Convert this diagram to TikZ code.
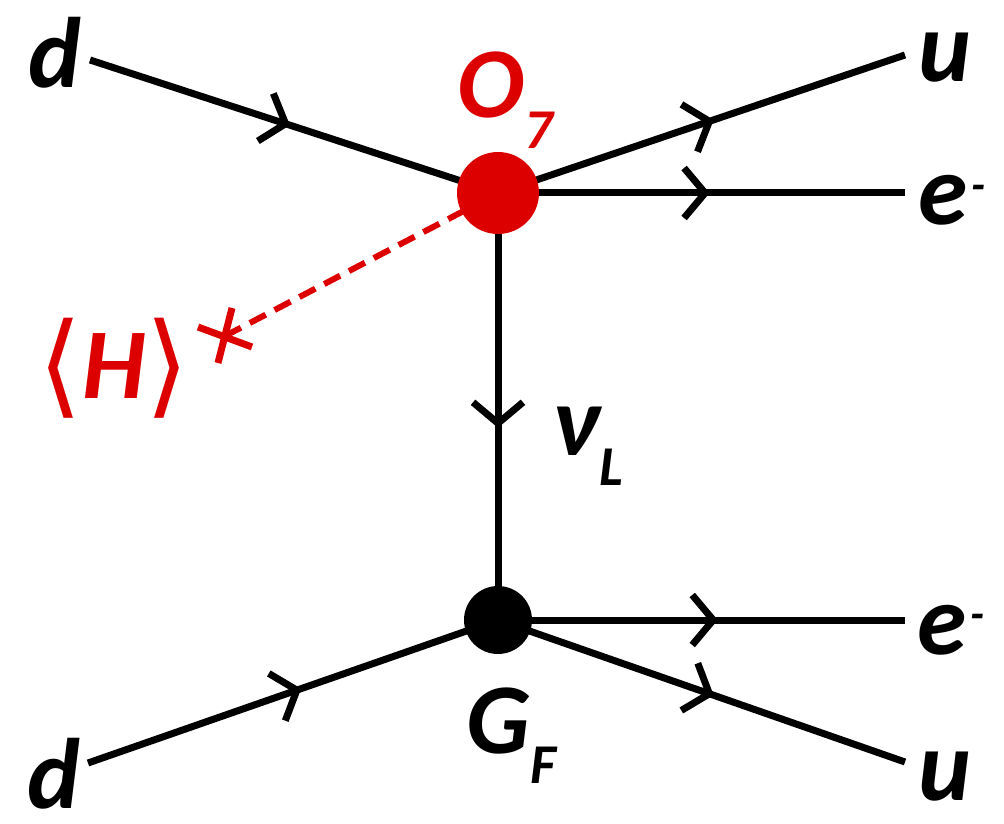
\documentclass[tikz,border=0pt]{standalone}
\usepackage{amsmath}
\usepackage{fontspec}
\setmainfont{Carlito}
\newfontfamily\symfont{DejaVu Sans}
\usetikzlibrary{arrows.meta,decorations.markings,positioning}
\definecolor{opred}{RGB}{220,0,0}
\tikzset{
  fermion/.style={decoration={markings,
      mark=at position #1 with {\arrow{Straight Barb[length=0.42cm,width=1cm]}}},
    postaction={decorate}},
  fermion/.default=0.5,
  leg/.style={line width=0.14cm},
  lbl/.style={font=\fontsize{57}{60}\selectfont\bfseries\itshape, inner sep=0pt},
}
\newcommand{\lowsub}[1]{\raisebox{-0.3em}{\fontsize{32}{32}\selectfont #1}}
\newcommand{\elneg}{\hspace{0.08cm}\raisebox{0.5cm}{\fontsize{26}{26}\selectfont -}}
\newcommand{\angl}[1]{\raisebox{-0.12cm}{\symfont\fontsize{64}{64}\selectfont\upshape\mdseries #1}}
\begin{document}
\begin{tikzpicture}[x=0.02cm,y=-0.02cm]
  \useasboundingbox (0,0) rectangle (1004,824);
  % vertices and free ends
  \coordinate (top) at (498,193);
  \coordinate (bot) at (498,620);
  \coordinate (din) at (90,60);
  \coordinate (uout) at (905,55);
  \coordinate (eout) at (905,193);
  \coordinate (dinb) at (88,763);
  \coordinate (eoutb) at (905,620);
  \coordinate (uoutb) at (905,762);
  \coordinate (vev) at (225,336);
  % Higgs vev insertion
  \draw[opred, line width=0.12cm, dash pattern=on 0.36cm off 0.2cm] (vev) -- (top);
  \draw[opred, line width=0.14cm] ([shift={(-27,-9)}]vev) -- ([shift={(27,11)}]vev);
  \draw[opred, line width=0.14cm] ([shift={(7,-28)}]vev) -- ([shift={(-7,27)}]vev);
  % fermion lines
  \draw[leg, fermion=0.49] (din) -- (top);
  \draw[leg, fermion=0.53] (top) -- (uout);
  \draw[leg, fermion=0.52] (top) -- (eout);
  \draw[leg, fermion=0.55] (top) -- (bot);
  \draw[leg, fermion=0.52] (dinb) -- (bot);
  \draw[leg, fermion=0.54] (bot) -- (eoutb);
  \draw[leg, fermion=0.53] (bot) -- (uoutb);
  % vertices
  \node[circle, fill=opred, minimum size=1.64cm, inner sep=0pt] (vtop) at (top) {};
  \node[circle, fill=black, minimum size=1.36cm, inner sep=0pt] (vbot) at (bot) {};
  % labels
  \node[lbl] (dtop) at (55,53) {d};
  \node[lbl] (dbot) at (54,774) {d};
  \node[lbl, anchor=base west] (utop) at (918,82) {u};
  \node[lbl, anchor=base west] (etop) at (918,225) {e\elneg};
  \node[lbl, anchor=base west] (ebot) at (917,654) {e\elneg};
  \node[lbl, anchor=base west] (ubot) at (918,800) {u};
  \node[lbl, anchor=base west, text=opred] (o7) at (457,118) {O\lowsub{7}};
  \node[lbl, anchor=base west] (nul) at (552,455) {ν\lowsub{L}};
  \node[lbl, anchor=base west] (gf) at (466,753) {G\lowsub{F}};
  \node[lbl, anchor=base west, text=opred] (hvev) at (38,398) {\angl{⟨}H\angl{⟩}};
\end{tikzpicture}
\end{document}
